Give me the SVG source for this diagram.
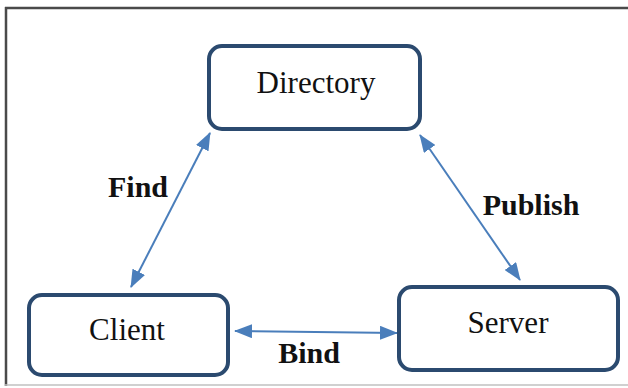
<svg xmlns="http://www.w3.org/2000/svg" width="628" height="388" viewBox="0 0 628 388">
<style>
.box{fill:#fff;stroke:#2b4a6f;stroke-width:4}
.lbl{font-family:"Liberation Serif","Times New Roman",serif;font-size:31px;fill:#111;text-anchor:middle}
.edge{font-family:"Liberation Serif","Times New Roman",serif;font-size:30px;font-weight:bold;fill:#111;text-anchor:middle}
.conn{stroke:#4a7ebb;stroke-width:2;fill:none;marker-start:url(#ah);marker-end:url(#ah)}
</style>
<defs>
<marker id="ah" viewBox="0 0 18 14" refX="17" refY="7" markerWidth="18" markerHeight="14" markerUnits="userSpaceOnUse" orient="auto-start-reverse">
<path d="M0,0 L18,7 L0,14 Z" fill="#4a7ebb"/>
</marker>
</defs>
<rect x="0" y="0" width="628" height="388" fill="#fff"/>
<g id="frame">
<line x1="5" y1="8" x2="628" y2="8" stroke="#4a4a4a" stroke-width="2.5"/>
<line x1="6" y1="7" x2="6" y2="386" stroke="#4a4a4a" stroke-width="2.5"/>
<line x1="5" y1="385" x2="628" y2="385" stroke="#c0c0c0" stroke-width="1.5"/>
</g>
<g id="connectors">
<line class="conn" x1="131" y1="287" x2="210" y2="133"/>
<line class="conn" x1="420" y1="135" x2="520" y2="280"/>
<line class="conn" x1="235" y1="331" x2="397" y2="333"/>
</g>
<g id="directory">
<rect class="box" x="209" y="46" width="211" height="83" rx="13"/>
<text class="lbl" x="316" y="93">Directory</text>
</g>
<g id="client">
<rect class="box" x="29" y="295" width="199" height="80" rx="13"/>
<text class="lbl" x="127" y="340">Client</text>
</g>
<g id="server">
<rect class="box" x="399" y="287" width="219" height="83" rx="13"/>
<text class="lbl" x="508" y="333">Server</text>
</g>
<g id="labels">
<text class="edge" x="138" y="197">Find</text>
<text class="edge" x="531" y="215">Publish</text>
<text class="edge" x="309" y="363">Bind</text>
</g>
</svg>
